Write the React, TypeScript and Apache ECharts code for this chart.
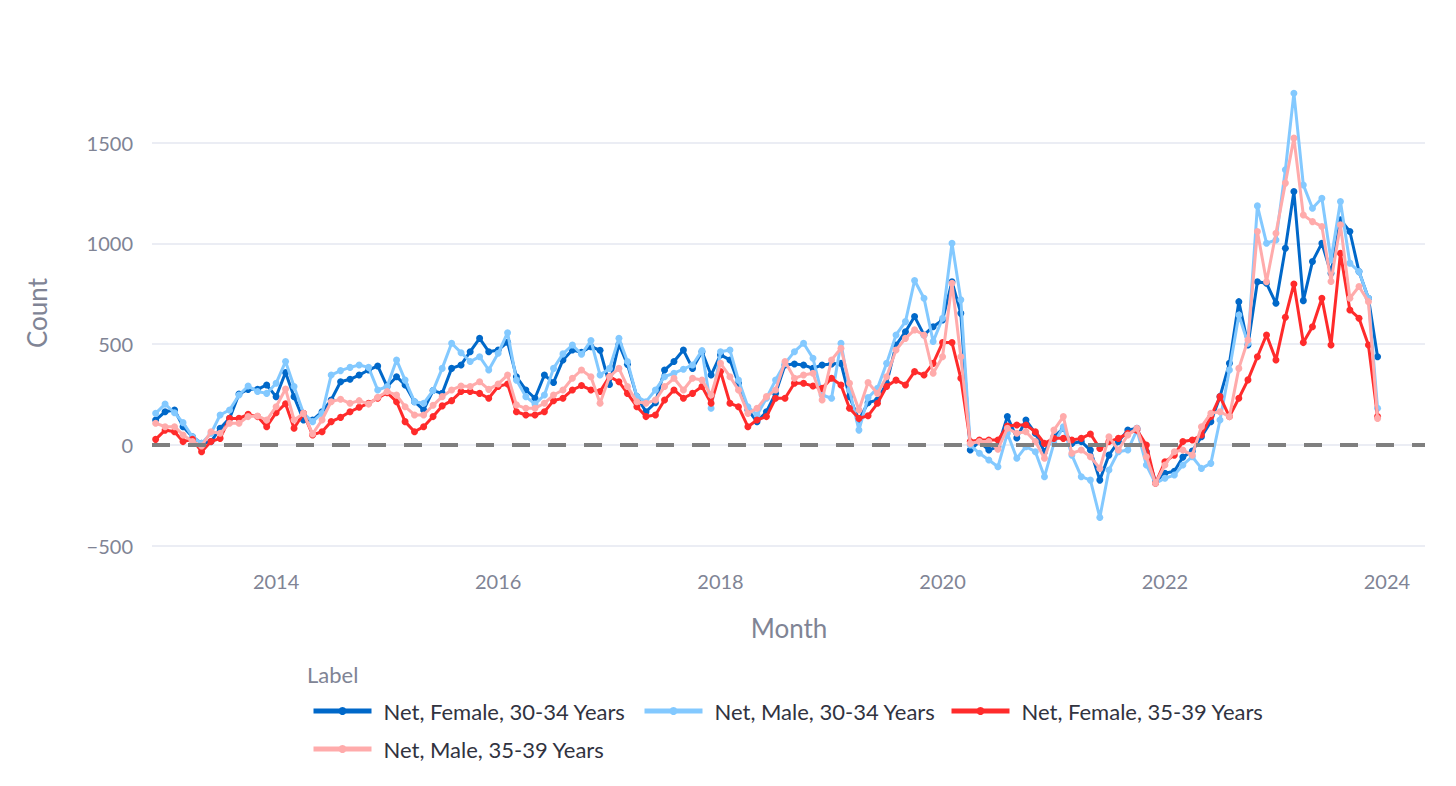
import React, { useEffect, useRef } from "react";
import * as echarts from "echarts";

// Monthly points, Dec 2012 .. Dec 2023 (133 months)
const START_YEAR = 2012;
const START_MONTH = 11; // December (0-based)
const N_MONTHS = 133;
const MONTHS = Array.from({ length: N_MONTHS }, (_, i) => new Date(START_YEAR, START_MONTH + i, 1).getTime());

const SERIES_NAMES = [
  "Net, Female, 30-34 Years",
  "Net, Male, 30-34 Years",
  "Net, Female, 35-39 Years",
  "Net, Male, 35-39 Years",
];
const COLORS = ["#0068c9", "#83c9ff", "#ff2b2b", "#ffabab"];

const FEMALE_30_34 = [
  124,
  165, 174, 91, 41, 8, 17, 83, 132, 253, 276, 276, 298,
  240, 360, 240, 124, 124, 165, 223, 314, 326, 347, 372, 392,
  290, 339, 298, 215, 174, 270, 256, 380, 397, 463, 529, 463,
  471, 510, 339, 273, 232, 347, 310, 422, 471, 460, 488, 470,
  300, 500, 400, 240, 165, 210, 372, 414, 471, 380, 463, 347,
  447, 422, 306, 174, 116, 165, 256, 397, 402, 397, 380, 397,
  402, 405, 240, 124, 210, 223, 306, 496, 562, 637, 546, 587,
  620, 810, 653, -25, 17, -25, -8, 141, 35, 124, 58, -33,
  41, 83, 8, 17, -25, -174, -50, 17, 74, 83, -33, -182,
  -140, -130, -60, -30, 41, 116, 240, 405, 711, 496, 810, 802,
  703, 976, 1257, 716, 910, 1001, 852, 1117, 1059, 860, 728, 438,
];

const MALE_30_34 = [
  157,
  203, 160, 111, 41, 8, 58, 149, 174, 248, 293, 265, 256,
  306, 414, 290, 157, 116, 157, 347, 369, 385, 397, 385, 273,
  290, 422, 322, 215, 207, 270, 380, 505, 458, 414, 438, 372,
  455, 557, 322, 240, 203, 248, 380, 452, 496, 450, 518, 347,
  380, 529, 414, 240, 215, 273, 339, 356, 376, 397, 468, 182,
  463, 471, 322, 190, 149, 232, 322, 405, 463, 505, 430, 248,
  232, 505, 273, 74, 235, 281, 405, 546, 612, 816, 728, 513,
  629, 1001, 720, 0, -41, -74, -108, 58, -66, -8, -33, -157,
  8, 91, -50, -157, -174, -359, -124, -33, -25, 74, -99, -190,
  -165, -149, -99, -58, -116, -91, 124, 372, 645, 505, 1186, 1001,
  1017, 1365, 1745, 1290, 1174, 1224, 918, 1208, 902, 860, 728, 182,
];

const FEMALE_35_39 = [
  28,
  74, 66, 17, 28, -33, 17, 33, 132, 132, 152, 141, 91,
  160, 205, 83, 157, 50, 66, 116, 137, 165, 187, 207, 232,
  260, 215, 116, 66, 91, 141, 194, 220, 265, 265, 256, 232,
  290, 303, 165, 149, 149, 165, 220, 232, 273, 295, 273, 265,
  339, 314, 256, 190, 141, 149, 223, 273, 232, 256, 290, 207,
  365, 207, 190, 91, 124, 141, 232, 232, 306, 306, 293, 281,
  331, 298, 182, 132, 145, 207, 290, 322, 298, 364, 347, 405,
  508, 508, 331, 17, 25, 25, 25, 94, 99, 99, 66, 8,
  33, 33, 25, 33, 55, -17, 17, 33, 58, 74, 0, -190,
  -83, -50, 17, 25, 50, 141, 240, 141, 232, 323, 438, 546,
  422, 634, 799, 508, 587, 728, 496, 951, 670, 629, 496, 141,
];

const MALE_35_39 = [
  108,
  91, 91, 50, 17, -5, 66, 58, 108, 108, 141, 144, 124,
  190, 278, 124, 157, 55, 124, 215, 227, 207, 220, 203, 237,
  265, 248, 190, 149, 149, 197, 240, 273, 293, 290, 314, 276,
  303, 347, 199, 182, 182, 207, 248, 273, 331, 372, 339, 207,
  339, 380, 290, 215, 207, 223, 290, 331, 273, 331, 322, 248,
  405, 339, 273, 157, 182, 240, 273, 414, 331, 347, 356, 223,
  422, 480, 306, 174, 310, 256, 339, 471, 529, 571, 546, 356,
  438, 802, 438, 8, 17, 17, -21, 83, 58, 66, 17, -66,
  74, 141, -41, -25, -58, -116, 41, -25, 50, 83, -58, -190,
  -99, -33, -25, -50, 91, 157, 165, 141, 380, 521, 1059, 810,
  1050, 1299, 1522, 1141, 1108, 1084, 811, 1092, 728, 786, 711, 132,
];

const SERIES_VALUES = [FEMALE_30_34, MALE_30_34, FEMALE_35_39, MALE_35_39];

const X_TICK_YEARS = [2014, 2016, 2018, 2020, 2022, 2024];
const Y_TICKS = [-500, 0, 500, 1000, 1500];
const Y_MIN = -600;
const Y_MAX = 1850;
const X_MIN = new Date(2012, 10, 19).getTime();
const X_MAX = new Date(2024, 4, 5).getTime();

const FONT = "Lato";
const AXIS_GRAY = "#808495";
const TEXT_DARK = "#31333F";
const GRID_COLOR = "#e4e7f0";

const LEGEND_POS = [
  { left: 311, top: 700 },
  { left: 642, top: 700 },
  { left: 949, top: 700 },
  { left: 311, top: 738 },
];

export default function App() {
  const ref = useRef<HTMLDivElement>(null);

  useEffect(() => {
    if (!ref.current) return;
    const chart = echarts.init(ref.current, undefined, { renderer: "svg" });

    const lineSeries = SERIES_NAMES.map((name, si) => ({
      name,
      type: "line",
      data: MONTHS.map((t, i) => [t, SERIES_VALUES[si][i]]),
      symbol: "circle",
      symbolSize: 7,
      showSymbol: true,
      showAllSymbol: true,
      lineStyle: { width: 3, color: COLORS[si] },
      itemStyle: { color: COLORS[si] },
      z: 3 + si,
      clip: true,
    }));

    const option: any = {
      animation: false,
      textStyle: { fontFamily: FONT },
      grid: { left: 152, right: 31, top: 72, height: 494, containLabel: false },
      xAxis: {
        type: "value",
        min: X_MIN,
        max: X_MAX,
        axisLine: { show: false },
        axisTick: { show: false },
        splitLine: { show: false },
        axisLabel: {
          customValues: X_TICK_YEARS.map((y) => new Date(y, 0, 1).getTime()),
          formatter: (v: number) => String(new Date(v).getFullYear()),
          color: AXIS_GRAY,
          fontSize: 20,
          fontFamily: FONT,
          margin: 5,
        },
      },
      yAxis: {
        type: "value",
        min: Y_MIN,
        max: Y_MAX,
        axisLine: { show: false },
        axisTick: { show: false },
        splitLine: { show: false },
        axisLabel: {
          customValues: Y_TICKS,
          formatter: (v: number) => (v < 0 ? "\u2212" + Math.abs(v) : String(v)),
          color: AXIS_GRAY,
          fontSize: 20,
          fontFamily: FONT,
          margin: 19,
        },
      },
      legend: SERIES_NAMES.map((name, i) => ({
        data: [name],
        left: LEGEND_POS[i].left,
        top: LEGEND_POS[i].top,
        padding: 0,
        itemWidth: 58,
        itemHeight: 10,
        selectedMode: false,
        lineStyle: { width: 5 },
        textStyle: { fontSize: 22, color: TEXT_DARK, fontFamily: FONT, padding: [0, 0, 0, 7] },
      })),
      graphic: [
        {
          type: "text",
          left: 307,
          top: 663,
          style: { text: "Label", fontSize: 22, fill: AXIS_GRAY, fontFamily: FONT },
        },
        {
          type: "text",
          x: 789,
          y: 628,
          style: {
            text: "Month",
            fontSize: 26,
            fill: AXIS_GRAY,
            fontFamily: FONT,
            align: "center",
            verticalAlign: "middle",
          },
        },
        {
          type: "text",
          x: 37,
          y: 313,
          rotation: Math.PI / 2,
          style: {
            text: "Count",
            fontSize: 26,
            fill: AXIS_GRAY,
            fontFamily: FONT,
            align: "center",
            verticalAlign: "middle",
          },
        },
      ],
      series: [
        {
          name: "gridlines",
          type: "line",
          data: [],
          z: 1,
          silent: true,
          markLine: {
            silent: true,
            z: 1,
            symbol: "none",
            label: { show: false },
            emphasis: { disabled: true },
            lineStyle: { color: GRID_COLOR, width: 1.5, type: "solid" },
            data: Y_TICKS.map((v) => ({ yAxis: v })),
          },
        },
        ...lineSeries,
        {
          name: "zeroline",
          type: "line",
          data: [],
          z: 20,
          silent: true,
          markLine: {
            silent: true,
            z: 20,
            symbol: "none",
            label: { show: false },
            emphasis: { disabled: true },
            lineStyle: { color: "#7f7f7f", width: 4, type: [18, 18] },
            data: [{ yAxis: 0 }],
          },
        },
      ],
    };

    chart.setOption(option);
    return () => chart.dispose();
  }, []);

  return (
    <div
      ref={ref}
      style={{ position: "fixed", left: 0, top: 0, width: 1456, height: 786, background: "#ffffff" }}
    />
  );
}
